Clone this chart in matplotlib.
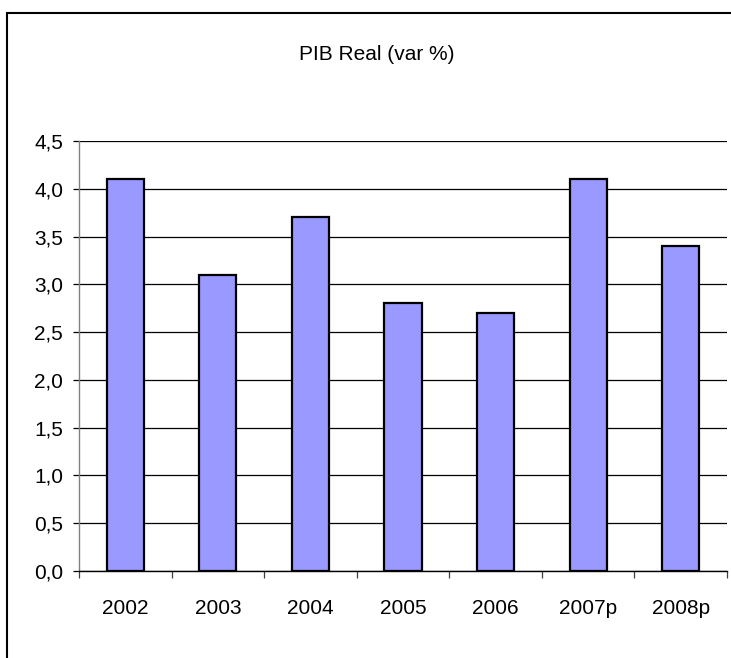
import matplotlib
matplotlib.use("Agg")
import matplotlib.pyplot as plt
from matplotlib.patches import Rectangle
from matplotlib.ticker import FuncFormatter, MultipleLocator
from matplotlib import font_manager
import numpy as np

# datos
years = ['2002', '2003', '2004', '2005', '2006', '2007p', '2008p']
pib = [4.1, 3.1, 3.7, 2.8, 2.7, 4.1, 3.4]

names = {f.name for f in font_manager.fontManager.ttflist}
fam = 'Liberation Sans Narrow' if 'Liberation Sans Narrow' in names else 'Liberation Sans'
plt.rcParams['font.family'] = [fam, 'DejaVu Sans']

fig = plt.figure(figsize=(7.31, 6.58), dpi=100)
ax = fig.add_axes([79/731, 1 - 571/658, (727 - 79)/731, (571 - 141)/658])

x = np.arange(len(years))
ax.bar(x, pib, width=0.4, color='#9999FF', edgecolor='black', linewidth=1.6, zorder=3)

ax.set_xlim(-0.5, len(years) - 0.5)
ax.set_ylim(0, 4.5)
ax.yaxis.set_major_locator(MultipleLocator(0.5))
ax.yaxis.set_major_formatter(FuncFormatter(lambda v, p: ('%.1f' % v).replace('.', ',')))
ax.grid(axis='y', color='black', linewidth=0.9, zorder=0)

ax.set_xticks(x)
ax.set_xticklabels(years)
ax.set_xticks(np.arange(len(years) + 1) - 0.5, minor=True)
ax.tick_params(axis='x', which='major', length=0, pad=20, labelsize=15)
ax.tick_params(axis='x', which='minor', length=5, width=0.9, direction='out', color='#404040')
ax.tick_params(axis='y', length=4.5, width=0.9, direction='out', pad=7, labelsize=15)

for s in ['top', 'right']:
    ax.spines[s].set_visible(False)
ax.spines['left'].set_color('#808080')
ax.spines['left'].set_linewidth(1.0)
ax.spines['bottom'].set_color('black')
ax.spines['bottom'].set_linewidth(1.0)

fig.text(377/731, 1 - 55/658, 'PIB Real (var %)', ha='center', va='center', fontsize=15)

fig.patches.append(Rectangle((7/731, -0.1), 1.2, 1.1 - 13/658, transform=fig.transFigure,
                             fill=False, edgecolor='black', linewidth=1.5))

fig.savefig('out.png', dpi=100)
